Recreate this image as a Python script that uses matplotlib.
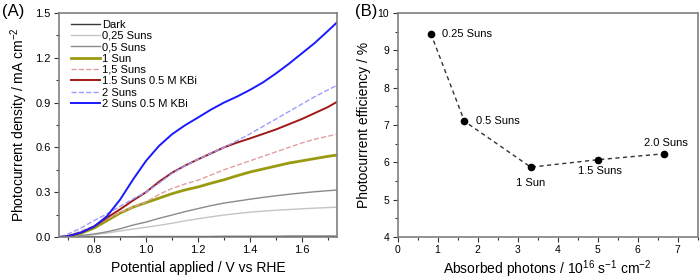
import numpy as np
import matplotlib
matplotlib.use("Agg")
from matplotlib import pyplot as plt
from matplotlib.ticker import MultipleLocator

plt.rcParams['font.family'] = ['Liberation Sans', 'DejaVu Sans']
plt.rcParams['mathtext.default'] = 'regular'

# panel A: photocurrent vs potential
potential = [0.67, 0.70, 0.75, 0.80, 0.85, 0.90, 0.95, 1.00, 1.05, 1.10, 1.15, 1.20,
             1.25, 1.30, 1.35, 1.40, 1.45, 1.50, 1.55, 1.60, 1.65, 1.70, 1.74]

j_dark = [0.0, 0.001, 0.001, 0.002, 0.002, 0.002, 0.002, 0.003, 0.003, 0.003, 0.003, 0.003,
          0.003, 0.004, 0.004, 0.004, 0.004, 0.004, 0.005, 0.005, 0.005, 0.005, 0.005]
j_025 = [0.0, 0.001, 0.006, 0.015, 0.027, 0.040, 0.053, 0.065, 0.078, 0.092, 0.108, 0.122,
         0.135, 0.147, 0.157, 0.166, 0.173, 0.179, 0.184, 0.189, 0.193, 0.197, 0.200]
j_05 = [0.0, 0.002, 0.010, 0.020, 0.035, 0.055, 0.080, 0.100, 0.125, 0.147, 0.170, 0.190,
        0.210, 0.227, 0.240, 0.253, 0.265, 0.276, 0.286, 0.295, 0.303, 0.310, 0.315]
j_1 = [0.0, 0.005, 0.025, 0.060, 0.110, 0.160, 0.200, 0.230, 0.260, 0.290, 0.315, 0.335,
       0.360, 0.383, 0.410, 0.435, 0.455, 0.475, 0.495, 0.510, 0.525, 0.540, 0.550]
j_15 = [0.0, 0.010, 0.040, 0.075, 0.120, 0.165, 0.200, 0.235, 0.285, 0.325, 0.355, 0.380,
        0.415, 0.450, 0.480, 0.510, 0.540, 0.570, 0.600, 0.630, 0.655, 0.675, 0.690]
j_15_kbi = [0.0, 0.005, 0.030, 0.070, 0.130, 0.185, 0.245, 0.300, 0.370, 0.430, 0.478, 0.520,
            0.560, 0.600, 0.632, 0.660, 0.690, 0.720, 0.755, 0.790, 0.830, 0.870, 0.910]
j_2 = [0.0, 0.020, 0.060, 0.110, 0.155, 0.205, 0.255, 0.300, 0.360, 0.425, 0.478, 0.520,
       0.560, 0.600, 0.645, 0.690, 0.740, 0.790, 0.840, 0.890, 0.940, 0.985, 1.020]
j_2_kbi = [0.0, 0.005, 0.030, 0.070, 0.140, 0.250, 0.385, 0.510, 0.610, 0.688, 0.748, 0.800,
           0.853, 0.900, 0.940, 0.985, 1.035, 1.095, 1.160, 1.230, 1.300, 1.380, 1.445]

series_labels = ["Dark", "0,25 Suns", "0,5 Suns", "1 Sun", "1,5 Suns",
                 "1.5 Suns 0.5 M KBi", "2 Suns", "2 Suns 0.5 M KBi"]

# panel B: efficiency vs absorbed photons
photons = [0.83, 1.67, 3.33, 5.0, 6.67]
efficiency = [9.45, 7.1, 5.87, 6.07, 6.23]
point_labels = ["0.25 Suns", "0.5 Suns", "1 Sun", "1.5 Suns", "2.0 Suns"]

spine_col = "#808080"


def style_axes(ax, fs):
    for s in ax.spines.values():
        s.set_color(spine_col)
        s.set_linewidth(1.2)
    ax.tick_params(which="both", direction="out", color="#333333", labelsize=fs,
                   top=False, right=False, pad=2.5)
    ax.tick_params(which="major", length=3.5, width=0.8)
    ax.tick_params(which="minor", length=2, width=0.8)


fig = plt.figure(figsize=(7, 2.8), dpi=100)
ax1 = fig.add_axes([0.0843, 0.1536, 0.3971, 0.80])
ax2 = fig.add_axes([0.568, 0.1536, 0.4287, 0.80])

# --- (A)
ys = [j_dark, j_025, j_05, j_1, j_15, j_15_kbi, j_2, j_2_kbi]
colors = ["#3a3a3a", "#c4c4c4", "#8a8a8a", "#9a9a10", "#e0a0a0", "#a01818", "#9c9cff", "#1a1aff"]
styles = ["-", "-", "-", "-", "--", "-", "--", "-"]
widths = [1.0, 1.0, 1.0, 2.0, 1.0, 1.4, 1.0, 1.4]
for y, c, ls, lw, lab in zip(ys, colors, styles, widths, series_labels):
    ax1.plot(potential, y, color=c, ls=ls, lw=lw, label=lab)

ax1.set_xlim(0.665, 1.735)
ax1.set_ylim(0, 1.5)
ax1.xaxis.set_major_locator(MultipleLocator(0.2))
ax1.xaxis.set_minor_locator(MultipleLocator(0.1))
ax1.yaxis.set_major_locator(MultipleLocator(0.3))
ax1.yaxis.set_minor_locator(MultipleLocator(0.15))
ax1.xaxis.set_major_formatter(matplotlib.ticker.FormatStrFormatter("%.1f"))
ax1.yaxis.set_major_formatter(matplotlib.ticker.FormatStrFormatter("%.1f"))
style_axes(ax1, 8)
ax1.set_xlabel("Potential applied / V vs RHE", fontsize=10, labelpad=4)
ax1.set_ylabel("Photocurrent density / mA cm$^{-2}$", fontsize=10, labelpad=4)
leg = ax1.legend(loc="upper left", frameon=False, fontsize=8, handlelength=2.6,
                 handletextpad=0.2, labelspacing=0.12, borderaxespad=0.2,
                 bbox_to_anchor=(0.02, 1.0))
fig.text(0.003, 0.985, "(A)", fontsize=12, va="top")

# --- (B)
ax2.plot(photons, efficiency, ls=(0, (3, 2.5)), color="#333333", lw=1.0,
         marker="o", ms=4.5, mfc="black", mec="black")
offsets = [(0.28, 0.0, "left", "center"), (0.28, 0.0, "left", "center"),
           (0.0, -0.42, "center", "center"), (0.05, -0.3, "center", "center"),
           (0.03, 0.3, "center", "center")]
for x, y, t, (dx, dy, ha, va) in zip(photons, efficiency, point_labels, offsets):
    ax2.text(x + dx, y + dy, t, fontsize=8, ha=ha, va=va)

ax2.set_xlim(0, 7.5)
ax2.set_ylim(4, 10)
ax2.xaxis.set_major_locator(MultipleLocator(1))
ax2.xaxis.set_minor_locator(MultipleLocator(0.5))
ax2.yaxis.set_major_locator(MultipleLocator(1))
ax2.yaxis.set_minor_locator(MultipleLocator(0.5))
style_axes(ax2, 7.5)
ax2.set_xlabel("Absorbed photons / 10$^{16}$ s$^{-1}$ cm$^{-2}$", fontsize=10, labelpad=2)
ax2.set_ylabel("Photocurrent efficiency / %", fontsize=10, labelpad=5)
fig.text(0.507, 0.985, "(B)", fontsize=12, va="top")

fig.savefig("out.png", dpi=100)
